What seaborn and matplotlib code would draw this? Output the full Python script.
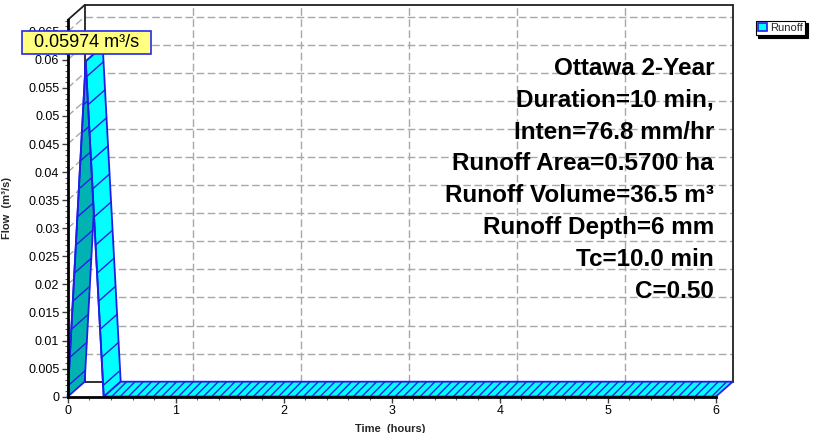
import matplotlib
matplotlib.use("Agg")
import matplotlib.pyplot as plt
from matplotlib.patches import Polygon, Patch, Rectangle
from matplotlib.ticker import MultipleLocator
import seaborn as sns

# ---------------- data ----------------
time_hr = [0.0, 10 / 60, 20 / 60, 6.0]
flow_cms = [0.0, 0.05974, 0.0, 0.0]
series_name = "Runoff"
peak_label = "0.05974 m³/s"
info_lines = [
    "Ottawa 2-Year",
    "Duration=10 min,",
    "Inten=76.8 mm/hr",
    "Runoff Area=0.5700 ha",
    "Runoff Volume=36.5 m³",
    "Runoff Depth=6 mm",
    "Tc=10.0 min",
    "C=0.50",
]
x_ticks = [0, 1, 2, 3, 4, 5, 6]
x_tick_labels = ["0", "1", "2", "3", "4", "5", "6"]
y_ticks = [0, 0.005, 0.01, 0.015, 0.02, 0.025, 0.03, 0.035, 0.04, 0.045,
           0.05, 0.055, 0.06, 0.065]
y_tick_labels = ["0", "0.005", "0.01", "0.015", "0.02", "0.025", "0.03",
                 "0.035", "0.04", "0.045", "0.05", "0.055", "0.06", "0.065"]
x_label = "Time  (hours)"
y_label = "Flow  (m³/s)"

# ---------------- style ----------------
sns.set_theme(style="white")
plt.rcParams['font.family'] = ['Liberation Sans', 'DejaVu Sans']
plt.rcParams['hatch.linewidth'] = 1.0

W, H = 815, 433
X0, Y0 = 67.7, 396.7          # front origin in pixels
PW, PH = 648.0, 376.7         # front axes size in pixels
XMAX, YMAX = 6.0, 0.0671
DX = 17.0 / PW * XMAX          # depth offset (data units)
DY = 15.0 / PH * YMAX

CYAN = "#00FFFF"
TEAL = "#00B2B2"
BLUE = "#1E1EE6"
GRID = "#A8A8A8"

fig = plt.figure(figsize=(W / 100, H / 100), dpi=100)
fig.patch.set_facecolor("white")
ax = fig.add_axes([X0 / W, (H - Y0) / H, PW / W, PH / H])
ax.set_facecolor("none")
ax.set_xlim(0, XMAX)
ax.set_ylim(0, YMAX)

# ---------------- back panel grid ----------------
dash = (0, (5.5, 2.5))
for yv in y_ticks[1:]:
    ax.plot([DX, XMAX + DX], [yv + DY, yv + DY], color=GRID, lw=1.0,
            ls=dash, clip_on=False, zorder=1)
    ax.plot([0, DX], [yv, yv + DY], color=GRID, lw=1.0, ls=dash,
            clip_on=False, zorder=1)
for xv in x_ticks[1:-1]:
    ax.plot([xv + DX, xv + DX], [DY, YMAX + DY], color=GRID, lw=1.0,
            ls=dash, clip_on=False, zorder=1)

# back frame
frame_kw = dict(color="#202020", lw=1.3, clip_on=False, zorder=1.5)
ax.plot([DX, XMAX + DX], [YMAX + DY, YMAX + DY], **frame_kw)
ax.plot([XMAX + DX, XMAX + DX], [DY, YMAX + DY], **frame_kw)
ax.plot([DX, DX], [DY, YMAX + DY], **frame_kw)
ax.plot([DX, XMAX + DX], [DY, DY], **frame_kw)
ax.plot([0, DX], [YMAX, YMAX + DY], **frame_kw)

# ---------------- 3-D ribbon ----------------
z = 3.0
for i in range(len(time_hr) - 1):
    t0, t1 = time_hr[i], time_hr[i + 1]
    q0, q1 = flow_cms[i], flow_cms[i + 1]
    quad = [(t0, q0), (t1, q1), (t1 + DX, q1 + DY), (t0 + DX, q0 + DY)]
    rising = q1 > q0
    flat = q1 == q0
    face = TEAL if rising else CYAN
    poly = Polygon(quad, closed=True, facecolor=face, edgecolor=BLUE,
                   lw=1.3, hatch="////" if flat else None, clip_on=False,
                   zorder=z)
    ax.add_patch(poly)
    z += 0.1
    if not flat:
        qhi = max(q0, q1)
        lev = 0.002
        while lev < qhi:
            frac = (lev - q0) / (q1 - q0)
            tf = t0 + frac * (t1 - t0)
            ax.plot([tf, tf + DX], [lev, lev + DY], color=BLUE, lw=1.0,
                    clip_on=False, zorder=z)
            lev += 0.005
        z += 0.1

# front edge of hydrograph
sns.lineplot(x=time_hr, y=flow_cms, ax=ax, color=BLUE, lw=1.3,
             legend=False, zorder=z + 0.1, clip_on=False)

# ---------------- axes ----------------
for s in ["top", "right"]:
    ax.spines[s].set_visible(False)
for s in ["left", "bottom"]:
    ax.spines[s].set_color("black")
    ax.spines[s].set_linewidth(2.0)
    ax.spines[s].set_zorder(10)

ax.set_xticks(x_ticks)
ax.set_xticklabels(x_tick_labels)
ax.set_yticks(y_ticks)
ax.set_yticklabels(y_tick_labels)
ax.xaxis.set_minor_locator(MultipleLocator(0.2))
ax.yaxis.set_minor_locator(MultipleLocator(0.001))
ax.tick_params(axis="both", which="major", direction="out", length=4,
               width=1, color="#404040", labelsize=9, pad=2,
               labelcolor="black", bottom=True, left=True)
ax.tick_params(axis="both", which="minor", direction="out", length=2,
               width=0.8, color="#606060", bottom=True, left=True)
ax.grid(False)

ax.set_xlabel(x_label, fontsize=8, fontweight="bold")
ax.set_ylabel(y_label, fontsize=8, fontweight="bold")
ax.xaxis.set_label_coords((390 - X0) / PW, (Y0 - 424) / PH)
ax.yaxis.set_label_coords((12 - X0) / PW, (Y0 - 208) / PH)

# ---------------- annotations ----------------
for i, line in enumerate(info_lines):
    fig.text(714 / W, 1 - (75.0 + 31.8 * i) / H, line, ha="right",
             va="baseline", fontsize=17.5, fontweight="bold", color="black",
             zorder=20)

# peak value call-out box
fig.add_artist(Rectangle((21.7 / W, 1 - 54.0 / H), 129.0 / W, 23.3 / H,
                         transform=fig.transFigure, facecolor="#FFFF80",
                         edgecolor="#2828F0", lw=1.2, zorder=29))
fig.text(86.2 / W, 1 - 42.3 / H, peak_label, ha="center", va="center",
         fontsize=13, color="black", zorder=30)

# legend
handle = Patch(facecolor=CYAN, edgecolor=BLUE, lw=1.2, label=series_name)
leg = ax.legend(handles=[handle], loc="upper left",
                bbox_to_anchor=(755.5 / W, 1 - 20.7 / H),
                bbox_transform=fig.transFigure, fontsize=8, frameon=True,
                fancybox=False, edgecolor="black", framealpha=1,
                handlelength=0.8, handleheight=0.8, handletextpad=0.35,
                borderpad=0.2, borderaxespad=0,
                shadow={"facecolor": "black", "edgecolor": "black",
                        "alpha": 1.0})
leg.get_frame().set_linewidth(0.8)
leg.set_zorder(40)

fig.savefig("out.png", dpi=100, facecolor="white")
